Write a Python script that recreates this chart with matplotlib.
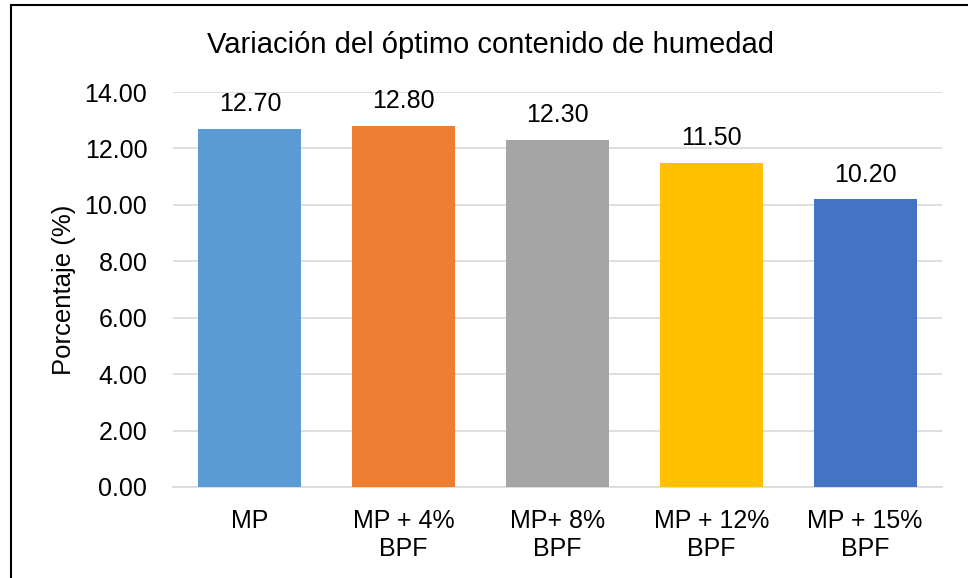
import matplotlib.pyplot as plt
from matplotlib.patches import Rectangle

categories = ["MP", "MP + 4%\nBPF", "MP+ 8%\nBPF", "MP + 12%\nBPF", "MP + 15%\nBPF"]
values = [12.70, 12.80, 12.30, 11.50, 10.20]
colors = ["#5B9BD5", "#ED7D31", "#A5A5A5", "#FFC000", "#4472C4"]
yticks = [0, 2, 4, 6, 8, 10, 12, 14]

plt.rcParams['font.family'] = ['Liberation Sans', 'DejaVu Sans']

fig = plt.figure(figsize=(9.68, 5.78), dpi=100)
ax = fig.add_axes([173 / 968, 1 - 487 / 578, (942 - 173) / 968, (487 - 92) / 578])

x = range(len(categories))
bars = ax.bar(x, values, width=0.67, color=colors, zorder=3)

for b, v in zip(bars, values):
    ax.annotate("%.2f" % v, (b.get_x() + b.get_width() / 2, v),
                xytext=(0, 9), textcoords="offset points",
                ha="center", va="bottom", fontsize=18)

ax.set_ylim(0, 14)
ax.set_xlim(-0.5, len(categories) - 0.5)
ax.set_yticks(yticks)
ax.set_yticklabels(["%.2f" % t for t in yticks], fontsize=18)
ax.set_xticks(list(x))
ax.set_xticklabels(categories, fontsize=18, linespacing=1.22)
ax.tick_params(axis="both", length=0)
ax.tick_params(axis="y", pad=18.5)
ax.tick_params(axis="x", pad=16)

ax.grid(axis="y", color="#D9D9D9", linewidth=1.2, zorder=0)
for s in ["top", "right", "left"]:
    ax.spines[s].set_visible(False)
ax.spines["bottom"].set_color("#D9D9D9")
ax.spines["bottom"].set_linewidth(1.2)

ax.set_ylabel("Porcentaje (%)", fontsize=18.5)
ax.yaxis.set_label_coords((76 - 173) / (942 - 173), 0.5)

fig.text(490 / 968, 1 - 45 / 578, "Variación del óptimo contenido de humedad",
         ha="center", va="center", fontsize=21)

# figure border
fig.patches.append(Rectangle((11 / 968, -0.05), 1.05, 1 - 5 / 578 + 0.05,
                             transform=fig.transFigure, fill=False,
                             edgecolor="black", linewidth=1.5))

fig.savefig("out.png", dpi=100)
